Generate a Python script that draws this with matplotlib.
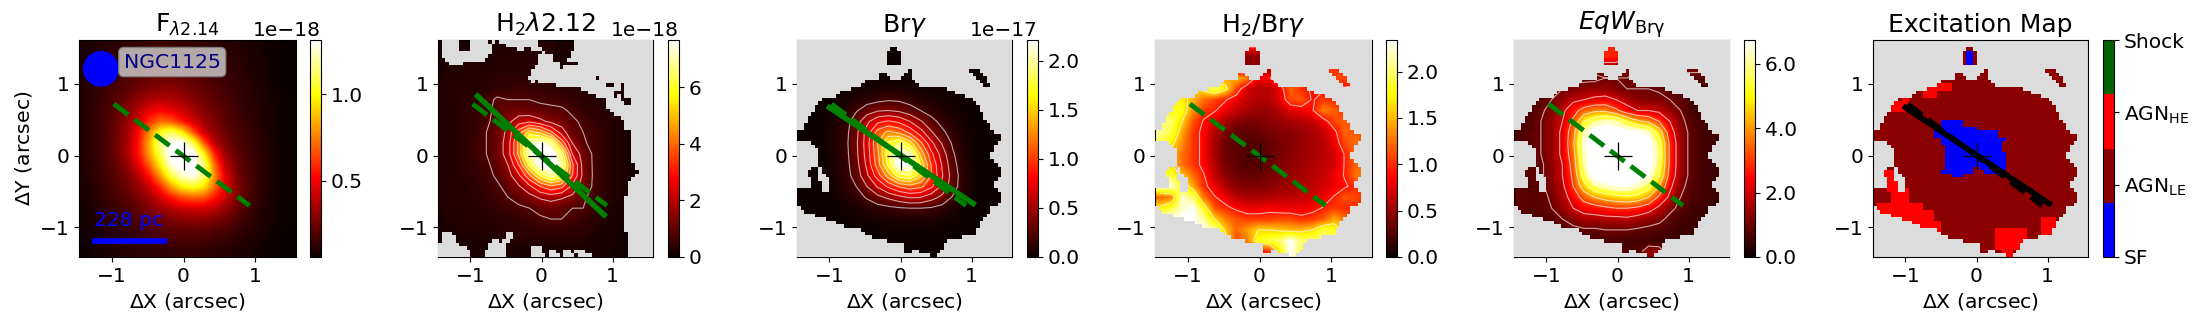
import numpy as np
import matplotlib
matplotlib.use('Agg')
import matplotlib.pyplot as plt
from matplotlib.colors import ListedColormap
from matplotlib.patches import Ellipse
from matplotlib.ticker import FormatStrFormatter

# coarse maps, read by eye (top row first), x from -1.38 to 1.47, y from 1.54 to -1.34
flux = [  # 1e-20
    [9,10,11,12,13,14,15,15,15,14,14,13,12,11,10,9,8,7,6,6],
    [9,11,12,13,14,16,17,17,17,16,15,14,13,12,11,10,9,7,6,6],
    [10,11,13,15,16,18,20,20,20,19,18,16,15,14,12,10,9,8,6,6],
    [10,12,14,16,19,21,23,24,24,23,21,19,17,15,13,11,9,8,6,6],
    [11,13,15,18,21,25,28,30,30,28,25,22,19,16,14,12,10,8,6,6],
    [11,13,16,20,25,31,36,38,37,34,29,25,21,18,15,12,10,8,7,6],
    [11,14,17,22,29,38,48,52,48,42,36,29,24,20,16,13,11,9,7,6],
    [11,14,18,24,32,44,60,72,68,56,44,34,27,21,17,14,11,9,7,6],
    [11,14,18,25,35,52,78,102,112,98,68,42,31,24,18,15,12,9,7,6],
    [11,14,18,25,36,55,85,118,132,135,110,70,38,27,20,16,12,10,7,6],
    [11,14,18,25,36,55,82,110,135,135,135,100,58,32,23,17,13,10,7,6],
    [10,13,17,23,32,48,70,98,128,135,135,118,72,40,26,18,14,10,7,6],
    [10,13,16,21,28,38,56,80,108,125,130,115,78,46,28,19,14,10,7,6],
    [9,12,15,19,25,32,42,60,82,98,104,96,72,48,30,20,14,10,7,6],
    [9,11,14,17,21,27,34,44,56,66,70,68,56,42,28,19,13,10,7,6],
    [8,10,13,15,18,23,28,33,38,42,44,44,40,32,24,17,12,9,7,6],
    [8,10,12,14,16,19,22,25,28,30,31,30,28,24,19,14,11,9,7,6],
    [7,9,11,12,14,16,18,20,21,22,22,22,20,18,15,12,10,8,6,6],
    [7,8,10,11,12,13,15,16,17,17,17,17,15,14,12,10,9,7,6,6],
    [6,8,9,10,11,12,12,13,13,14,14,13,12,11,10,9,7,6,6,6],
]
h2 = [  # 1e-19
    [2,2,2,2,2,2,3,3,3,3,3,2,2,2,2,2,2,2,1,1],
    [2,2,3,3,2,3,3,3,3,3,3,2,2,2,2,2,2,2,1,1],
    [2,3,3,3,3,3,3,3,3,3,3,2,2,2,2,2,2,2,1,1],
    [3,3,3,3,3,4,4,4,4,4,3,3,3,3,2,2,2,2,1,1],
    [3,3,3,3,4,5,5,6,5,5,4,4,4,3,3,2,2,2,1,1],
    [3,3,4,4,6,9,8,8,8,7,7,6,5,4,3,3,2,2,1,1],
    [3,3,4,5,7,9,11,12,11,10,9,9,7,5,4,3,3,2,1,1],
    [3,3,4,5,7,10,14,20,22,18,14,12,9,7,5,4,3,2,1,1],
    [3,3,4,5,8,11,18,36,52,46,34,20,10,8,6,4,3,2,1,1],
    [3,3,4,6,8,11,20,42,70,76,68,38,16,9,6,4,3,2,1,1],
    [3,3,4,6,8,11,20,42,72,84,84,62,24,12,7,4,3,2,1,1],
    [3,3,4,5,7,10,16,32,58,80,84,70,34,13,7,4,3,2,1,1],
    [3,3,4,5,6,9,13,22,38,56,68,60,32,14,7,4,3,2,1,1],
    [3,3,3,4,5,7,10,15,22,32,38,34,22,12,7,4,3,2,1,1],
    [3,3,3,4,5,6,8,10,13,17,19,17,14,9,6,4,3,2,1,1],
    [3,3,3,3,4,5,6,7,8,10,11,10,8,8,5,3,2,2,1,1],
    [2,3,3,3,3,4,4,5,6,7,8,8,7,5,4,3,2,2,1,1],
    [2,2,3,3,3,3,4,4,4,5,5,5,4,4,3,2,2,1,1,1],
    [2,2,2,2,2,3,3,3,3,3,3,3,3,3,2,2,2,1,1,1],
    [2,2,2,2,2,2,2,2,2,2,2,2,2,2,2,2,1,1,1,1],
]
brg = [  # 1e-19
    [1,1,1,1,1,1,1,1,1,1,1,1,1,1,1,1,1,1,1,1],
    [1,1,1,1,1,1,1,1,1,1,1,1,1,1,1,1,1,1,1,1],
    [1,1,1,1,1,1,1,1,1,1,1,1,1,1,1,1,1,1,1,1],
    [1,1,1,1,1,1,2,2,2,2,2,2,1,1,1,1,1,1,1,1],
    [1,1,1,1,2,3,4,5,6,6,5,4,3,3,2,2,1,1,1,1],
    [1,1,2,3,5,8,12,15,18,17,13,9,6,4,3,2,1,1,1,1],
    [1,1,2,4,8,18,30,38,40,36,28,20,12,8,5,3,2,1,1,1],
    [1,2,3,6,12,30,55,75,82,75,60,42,26,14,8,4,2,1,1,1],
    [1,2,3,7,14,34,68,108,125,115,95,68,42,24,11,5,3,2,1,1],
    [1,2,3,7,15,36,70,120,165,180,150,105,65,38,17,7,3,2,1,1],
    [1,2,3,6,14,35,68,115,175,222,205,135,85,50,22,8,3,2,1,1],
    [1,2,3,6,13,32,64,110,165,225,222,160,98,58,26,9,3,2,1,1],
    [1,2,3,5,12,28,56,90,130,170,178,145,100,62,30,10,3,2,1,1],
    [1,1,2,4,10,20,40,62,84,102,112,105,84,55,28,10,3,2,1,1],
    [1,1,2,3,7,12,22,34,44,54,62,60,48,35,18,7,3,2,1,1],
    [1,1,1,2,4,5,9,12,15,18,20,20,18,13,7,3,2,1,1,1],
    [1,1,1,1,2,3,4,5,6,7,8,8,7,5,4,2,1,1,1,1],
    [1,1,1,1,1,2,2,2,3,3,3,3,3,2,2,1,1,1,1,1],
    [1,1,1,1,1,1,1,2,2,2,2,2,2,1,1,1,1,1,1,1],
    [1,1,1,1,1,1,1,1,1,1,1,1,1,1,1,1,1,1,1,1],
]
ratio = [  # 0.01
    [100,100,100,100,100,100,100,100,100,100,100,100,100,100,100,100,100,100,100,100],
    [100,100,100,100,100,100,100,45,45,45,45,100,100,100,100,100,100,100,100,100],
    [100,100,100,100,100,100,100,45,45,45,45,100,100,100,100,100,100,100,100,100],
    [130,130,130,130,130,130,140,150,130,80,90,110,110,110,110,110,110,110,100,100],
    [170,170,170,150,170,200,170,110,70,60,60,80,120,100,90,90,90,90,90,90],
    [170,170,170,150,125,110,95,80,65,60,60,75,110,115,90,105,100,100,100,100],
    [180,180,180,135,105,95,80,65,55,50,50,60,75,80,90,130,120,100,100,100],
    [200,200,160,115,90,75,55,45,40,40,45,50,55,60,65,80,110,120,100,100],
    [210,190,145,105,85,60,40,30,30,32,38,42,45,50,55,65,85,120,115,110],
    [190,170,135,105,85,55,35,28,25,27,32,38,42,48,55,60,78,110,125,120],
    [170,150,125,105,85,55,35,28,25,25,30,38,45,50,55,60,70,95,125,120],
    [170,160,125,105,85,60,38,30,25,28,32,40,48,52,58,62,70,95,120,125],
    [190,190,155,125,95,65,45,35,32,32,38,42,50,55,60,65,80,95,125,135],
    [225,225,185,145,100,80,58,45,42,42,45,50,52,58,62,70,80,90,100,100],
    [120,130,225,200,125,95,80,62,55,55,58,62,62,65,72,80,95,115,110,100],
    [170,190,220,235,180,115,100,88,80,80,85,80,78,80,85,95,105,100,100,100],
    [230,230,235,235,210,160,130,115,105,105,105,110,110,100,105,115,145,125,100,100],
    [230,230,235,235,235,210,155,120,140,160,160,155,150,150,160,190,180,150,100,100],
    [200,200,200,200,200,200,170,110,130,180,190,200,235,200,200,200,200,150,100,100],
    [200,200,200,200,200,200,120,110,90,90,100,170,235,190,150,150,150,100,100,100],
]
eqw = [  # 0.1
    [20,20,20,20,20,20,20,28,28,28,20,20,20,20,20,20,20,20,20,20],
    [20,20,20,20,20,20,20,28,28,28,20,20,20,20,20,20,20,20,20,20],
    [12,12,12,12,12,12,12,14,14,14,12,12,12,12,12,12,12,12,12,12],
    [8,8,8,8,8,8,8,8,10,10,10,8,8,8,8,8,8,8,8,8],
    [5,5,6,8,10,12,13,14,14,12,10,10,10,9,8,6,5,5,5,5],
    [6,6,8,10,14,18,20,22,23,20,16,13,12,12,10,8,6,5,5,5],
    [6,7,9,12,18,26,34,38,38,32,24,20,20,18,14,10,6,5,5,5],
    [7,7,10,14,20,32,50,58,62,60,50,42,38,30,20,12,7,6,5,5],
    [7,8,10,14,22,36,60,72,75,72,70,68,62,46,24,14,8,6,5,5],
    [7,8,10,14,22,38,64,76,78,78,76,74,70,54,28,14,8,6,5,5],
    [7,8,10,14,22,36,62,76,78,78,78,76,72,56,28,14,8,6,5,5],
    [7,8,9,13,20,34,60,76,78,78,78,76,72,54,28,14,8,6,5,5],
    [7,8,9,13,20,32,55,72,76,78,76,72,66,50,26,14,8,6,5,5],
    [7,7,9,12,18,30,45,58,62,66,66,62,54,40,22,12,7,6,5,5],
    [9,8,8,11,16,24,34,40,44,46,48,46,40,28,18,10,7,6,5,5],
    [8,8,8,10,14,20,24,26,28,30,30,28,24,18,12,8,6,5,5,5],
    [6,6,7,8,10,13,16,16,17,17,18,16,14,12,8,6,5,5,5,5],
    [5,5,5,6,7,8,9,9,10,10,10,9,8,7,6,5,5,5,5,5],
    [5,5,5,5,5,6,6,6,7,7,6,6,6,5,5,5,5,5,5,5],
    [5,5,5,5,5,5,5,5,8,8,7,7,14,14,5,5,5,5,5,5],
]

# footprint of the Br-gamma maps: valid column runs for each of the 60 rows
valid_brg = [
    [], [], [(26,27)], [(25,28)], [(25,28)], [(25,28)], [(25,28)], [],
    [(31,31),(48,50)], [(23,24),(30,31),(49,51)], [(23,25),(29,31),(50,52)],
    [(19,32),(51,52)], [(18,33),(52,53)], [(15,41)], [(12,43)], [(11,46)], [(7,48)],
    [(6,49)], [(5,50)], [(5,50)], [(4,51)], [(3,51)], [(3,52)], [(2,53)], [(2,53)],
    [(0,54)], [(0,56)], [(0,56)], [(4,55)], [(5,54)], [(6,54)], [(6,53)], [(6,53)],
    [(6,54)], [(6,55)], [(4,5),(7,56)], [(3,5),(7,56)], [(3,5),(8,56)], [(4,5),(9,55)],
    [(4,6),(9,54)], [(4,6),(9,54)], [(0,6),(9,55)], [(0,56)], [(0,56)], [(0,56)],
    [(0,55)], [(1,53)], [(2,53)], [(5,52)], [(8,51)], [(11,50)], [(13,50)], [(18,49)],
    [(19,49)], [(21,45)], [(25,41)], [(30,40)], [(30,40)], [(30,31),(34,39)], [(37,38)],
]
# gray holes of the H2 map, same rows
gray_h2 = [
    [(1,5),(9,13),(15,15),(17,27),(38,59)], [(1,5),(9,14),(19,27),(38,59)],
    [(1,5),(9,14),(22,23),(26,28),(38,59)], [(1,14),(29,29),(37,59)],
    [(1,13),(28,31),(37,59)], [(2,12),(28,31),(36,59)], [(3,6),(28,33),(39,59)], [(27,33),(35,59)],
    [(26,59)], [(26,59)], [(25,43),(45,59)], [(26,26),(28,59)], [(33,46),(49,50),(52,59)],
    [(40,50),(52,59)], [(42,48),(52,59)], [(44,48),(50,50),(52,59)], [(47,50),(54,59)],
    [(47,51),(54,59)], [(47,59)], [(48,59)],
    [(49,59)], [(51,59)], [(52,59)], [(52,59)], [(52,59)], [(54,59)], [(54,59)], [(54,59)],
    [(54,59)], [(54,59)], [(54,59)], [(54,59)], [(54,59)], [(54,59)], [(55,59)], [(55,59)],
    [(56,59)], [(55,59)], [(54,59)], [(53,59)], [(53,59)], [(53,59)], [(53,59)], [(52,59)],
    [(52,59)], [(52,59)], [(52,59)], [(52,59)], [(52,59)], [(52,59)], [(52,59)], [(52,59)],
    [(52,59)], [(1,3),(19,20),(53,59)], [(1,4),(19,20),(53,59)], [(1,4),(15,16),(18,19),(53,59)],
    [(0,5),(14,18),(53,59)], [(0,7),(14,18),(26,28),(53,59)],
    [(0,8),(13,18),(26,28),(31,32),(35,36),(38,40),(53,59)],
    [(0,8),(13,18),(26,29),(31,33),(35,37),(39,42),(53,59)],
]
# excitation classes: blocks of (row0, row1, col0, col1)
sf_blocks = [(3,6,26,27),(22,23,19,24),(24,24,19,28),(25,26,17,34),(27,27,19,36),(28,28,19,35),
             (29,30,20,35),(31,34,20,36),(35,35,20,27),(35,35,30,36),(36,36,19,27),(36,36,31,34),(37,37,22,24)]
he_blocks = [(13,15,14,17),(12,13,17,21),(17,19,5,8),(16,18,8,9),(36,37,3,5),(38,41,4,6),(41,44,5,9),
             (45,48,1,13),(47,50,8,16),(50,52,13,18),(52,57,34,42),(58,59,36,38),(49,54,47,50)]

# slit ends, arcsec
dash_x = [-0.97, 0.92]
dash_y = [0.72, -0.70]
h2_slit_x = [-0.90, 0.88]
h2_slit_y = [0.83, -0.83]
brg_slit_x = [-1.00, 1.02]
brg_slit_y = [0.67, -0.67]

titles = [r'F$_{\lambda 2.14}$', r'H$_2\lambda$2.12', r'Br$\gamma$', r'H$_2$/Br$\gamma$',
          r'$EqW_{\mathrm{Br\gamma}}$', 'Excitation Map']
class_labels = ['SF', r'AGN$_{\mathrm{LE}}$', r'AGN$_{\mathrm{HE}}$', 'Shock']

W, H = 2200, 324
xlim = (-1.456, 1.567)
ylim = (-1.417, 1.613)
ext = [xlim[0], xlim[1], ylim[0], ylim[1]]
ax_left = [79, 438, 797, 1155, 1514, 1873]
ax_right = [296, 653, 1012, 1372, 1729, 2088]
cb_left = [310, 668, 1027, 1386, 1744, 2103]
top, bottom = 40, 257
tick_fs = 14.5
label_fs = 14.7
title_fs = 18

# centres of the coarse grid
xc = xlim[0] + (np.arange(20) + 0.5) * (xlim[1] - xlim[0]) / 20
yc = ylim[1] - (np.arange(20) + 0.5) * (ylim[1] - ylim[0]) / 20


def runs_to_mask(rows):
    m = np.zeros((60, 60), dtype=bool)
    for i, runs in enumerate(rows):
        for a, b in runs:
            m[i, a:b + 1] = True
    return m


def add_axes_px(x0, x1):
    return fig.add_axes([x0 / W, 1 - bottom / H, (x1 - x0) / W, (bottom - top) / H])


fig = plt.figure(figsize=(W / 100, H / 100), dpi=100)
gray = ListedColormap(['gainsboro'])

brg_mask = ~runs_to_mask(valid_brg)
h2_mask = runs_to_mask(gray_h2)

maps = [
    (np.array(flux) * 1e-20, None, 0.056e-18, 1.316e-18, [0.5e-18, 1e-18], None),
    (np.array(h2) * 1e-19, h2_mask, 0, 7.67e-18, [0, 2e-18, 4e-18, 6e-18], [0.8e-18, 1.6e-18, 2.4e-18, 3.2e-18, 4e-18, 4.8e-18, 5.6e-18, 6.4e-18]),
    (np.array(brg) * 1e-19, brg_mask, 0, 2.21e-17, [0, 0.5e-17, 1e-17, 1.5e-17, 2e-17], [2e-18, 4e-18, 6e-18, 8e-18, 1e-17, 1.2e-17, 1.4e-17, 1.6e-17, 1.8e-17, 2e-17]),
    (np.array(ratio) * 0.01, brg_mask, 0, 2.34, [0, 0.5, 1, 1.5, 2], [0.93, 1.6]),
    (np.array(eqw) * 0.1, brg_mask, 0, 6.73, [0, 2, 4, 6], [1, 2, 3, 4, 5, 6]),
]

axes = []
for i in range(6):
    ax = add_axes_px(ax_left[i], ax_right[i])
    cax = add_axes_px(cb_left[i], cb_left[i] + 11)
    axes.append(ax)
    if i < 5:
        data, mask, vmin, vmax, ticks, levels = maps[i]
        im = ax.imshow(data, cmap='hot', vmin=vmin, vmax=vmax, extent=ext, aspect='auto',
                       interpolation='bilinear', origin='upper')
        if mask is not None:
            ax.imshow(np.ma.masked_where(~mask, mask.astype(float)), cmap=gray, extent=ext,
                      aspect='auto', interpolation='nearest', origin='upper', zorder=3)
        if levels is not None:
            ax.contour(xc, yc, data, levels=levels, colors='w', linewidths=0.8, alpha=0.65, zorder=2)
        cb = fig.colorbar(im, cax=cax, ticks=ticks)
        if i in (3, 4):
            cb.ax.yaxis.set_major_formatter(FormatStrFormatter('%.1f'))
        cb.ax.yaxis.get_offset_text().set_fontsize(tick_fs)
    else:
        classes = np.ones((60, 60))
        for r0, r1, c0, c1 in he_blocks:
            classes[r0:r1 + 1, c0:c1 + 1] = 2
        for r0, r1, c0, c1 in sf_blocks:
            classes[r0:r1 + 1, c0:c1 + 1] = 0
        cmap6 = ListedColormap(['blue', 'darkred', 'red', 'darkgreen'])
        im = ax.imshow(np.ma.masked_where(brg_mask, classes), cmap=cmap6, vmin=0, vmax=3, extent=ext,
                       aspect='auto', interpolation='nearest', origin='upper')
        ax.set_facecolor('gainsboro')
        cb = fig.colorbar(im, cax=cax, ticks=[0, 1, 2, 3])
        cb.ax.set_yticklabels(class_labels)
    cb.ax.tick_params(labelsize=tick_fs)
    ax.set_xlim(xlim)
    ax.set_ylim(ylim)
    ax.set_xticks([-1, 0, 1])
    ax.set_yticks([-1, 0, 1])
    ax.tick_params(labelsize=tick_fs)
    ax.set_xlabel(r'$\Delta$X (arcsec)', fontsize=label_fs)
    ax.set_title(titles[i], fontsize=title_fs, pad=6)
    ax.plot([0], [0], marker='+', color='k', ms=20, mew=0.9, zorder=6)

axes[0].set_ylabel(r'$\Delta$Y (arcsec)', fontsize=label_fs)

# slits
for i in (0, 3, 4):
    axes[i].plot(dash_x, dash_y, color='green', ls='--', lw=3.5, zorder=5)
axes[1].plot(h2_slit_x, h2_slit_y, color='green', lw=4, zorder=5)
axes[1].plot(dash_x, dash_y, color='green', ls='--', lw=3.5, zorder=5)
axes[2].plot(brg_slit_x, brg_slit_y, color='green', lw=4, zorder=5)
axes[2].plot(dash_x, dash_y, color='green', ls='--', lw=3.5, zorder=5)
axes[5].plot(brg_slit_x, brg_slit_y, color='k', lw=4, zorder=5)
axes[5].plot(dash_x, dash_y, color='k', ls='--', lw=3.5, zorder=5)

# annotations of the first panel
a = axes[0]
a.add_patch(Ellipse((-1.15, 1.21), 0.48, 0.48, color='blue', zorder=5))
a.text(-0.157, 1.305, 'NGC1125', color='navy', fontsize=14.7, va='center', ha='center', zorder=6,
       bbox=dict(boxstyle='round', fc='lightgray', ec='gray', alpha=0.8, pad=0.25))
a.plot([-1.28, -0.23], [-1.19, -1.19], color='blue', lw=4, zorder=5, solid_capstyle='butt')
a.text(-1.245, -0.905, '228 pc', color='blue', fontsize=14.7, va='center', ha='left', zorder=6)

fig.savefig('out.png', dpi=100)
